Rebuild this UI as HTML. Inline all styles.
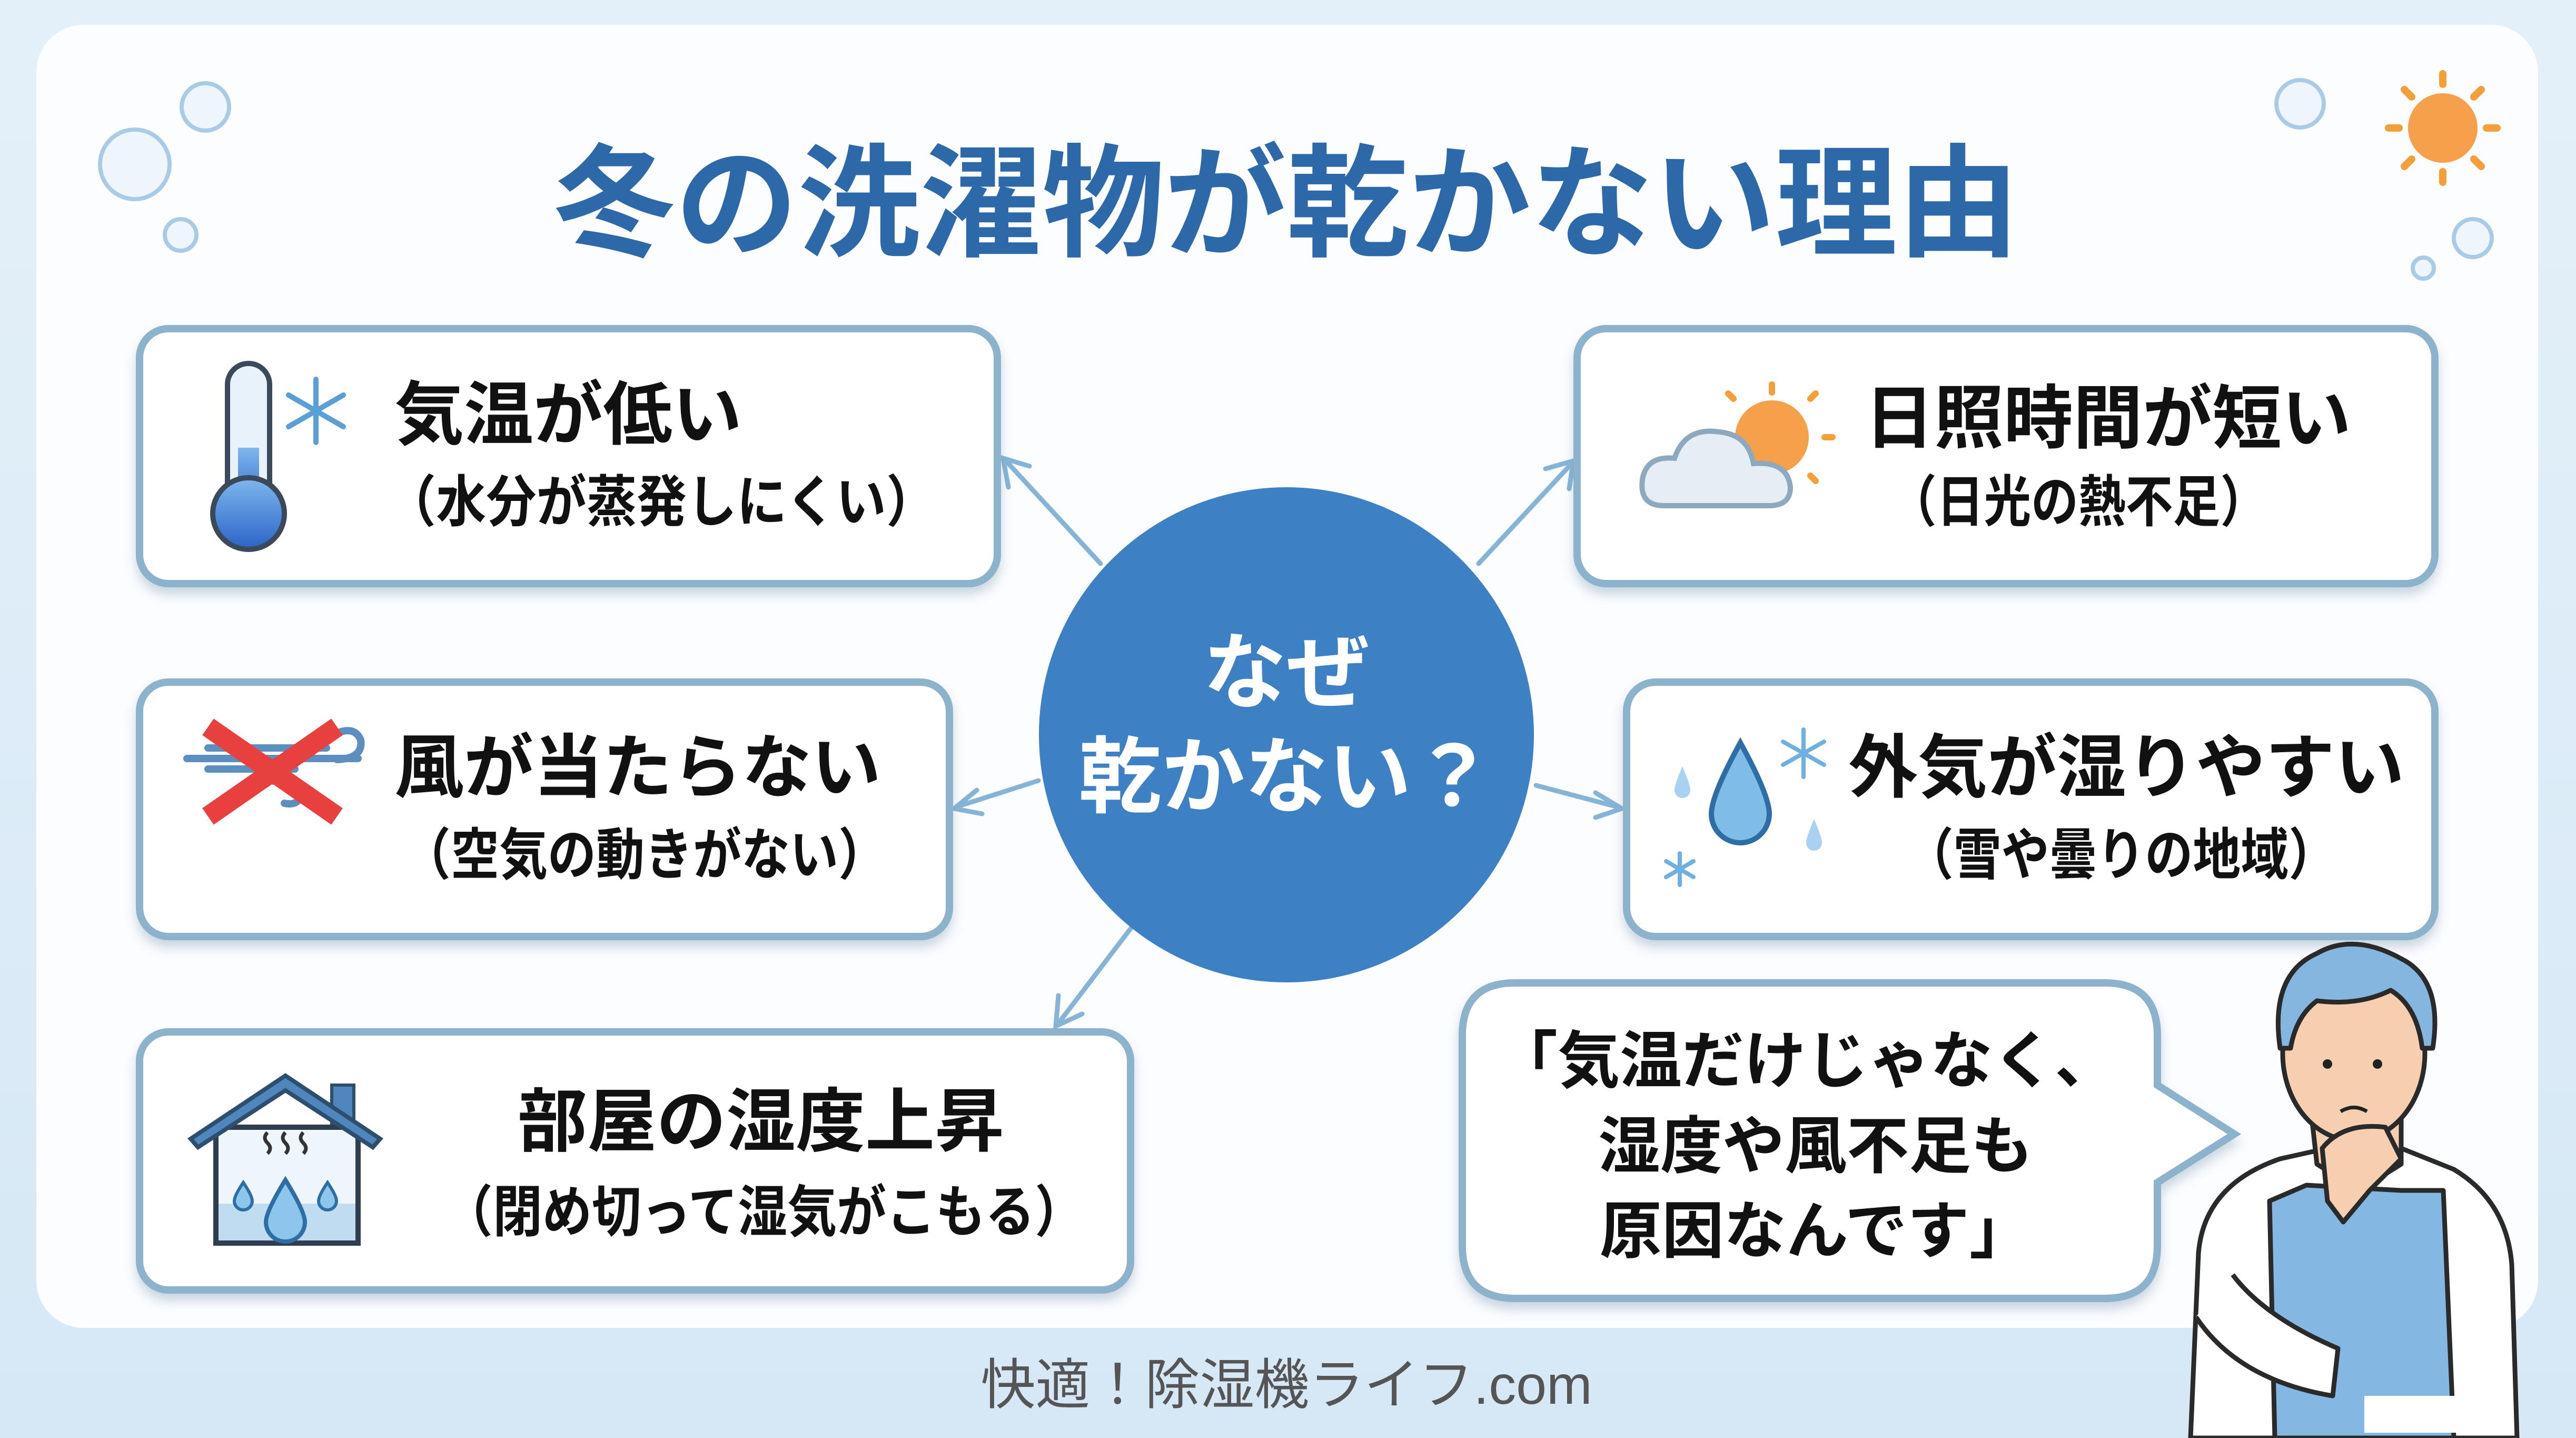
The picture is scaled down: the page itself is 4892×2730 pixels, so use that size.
<!DOCTYPE html>
<html><head><meta charset="utf-8"><style>
html,body{margin:0;padding:0;width:4892px;height:2730px;overflow:hidden;background:#dcebf7}
svg{display:block}
text{font-family:"Liberation Sans","Noto Sans CJK JP",sans-serif;font-weight:bold}
</style></head><body>
<svg width="4892" height="2730" viewBox="0 0 4892 2730" xmlns="http://www.w3.org/2000/svg">
<defs>
<linearGradient id="bg" x1="0" y1="0" x2="0" y2="1"><stop offset="0" stop-color="#e4f0f9"/><stop offset="1" stop-color="#d6e8f6"/></linearGradient>
<filter id="sh" x="-5%" y="-5%" width="110%" height="120%"><feDropShadow dx="0" dy="14" stdDeviation="10" flood-color="#6f8fa8" flood-opacity="0.35"/></filter>
<linearGradient id="therm" x1="0" y1="0" x2="0" y2="1"><stop offset="0" stop-color="#7fb8ec"/><stop offset="1" stop-color="#2b63c8"/></linearGradient>
</defs>
<rect width="4892" height="2730" fill="url(#bg)"/>
<rect x="69" y="47" width="4751" height="2474" rx="90" fill="#fbfdff"/>

<g fill="#eef6fc" stroke="#a9cbe6" stroke-width="8">
<circle cx="256" cy="312" r="66"/><circle cx="390" cy="203" r="45"/><circle cx="343" cy="446" r="30"/>
<circle cx="4368" cy="197" r="45"/><circle cx="4696" cy="452" r="36"/><circle cx="4602" cy="509" r="20"/>
</g>
<g stroke="#f3a03a" stroke-width="14" stroke-linecap="round">
<circle cx="4639" cy="243" r="66" fill="#f5a04a" stroke="none"/>
<line x1="4639" y1="140" x2="4639" y2="160"/><line x1="4639" y1="326" x2="4639" y2="346"/>
<line x1="4536" y1="243" x2="4556" y2="243"/><line x1="4722" y1="243" x2="4742" y2="243"/>
<line x1="4566" y1="170" x2="4580" y2="184"/><line x1="4698" y1="302" x2="4712" y2="316"/>
<line x1="4712" y1="170" x2="4698" y2="184"/><line x1="4580" y1="302" x2="4566" y2="316"/>
</g>

<text x="2443" y="468" text-anchor="middle" font-size="232" fill="#2d68a8">冬の洗濯物が乾かない理由</text>

<g stroke="#86b4d6" stroke-width="9" fill="none" stroke-linecap="round">
<line x1="2090" y1="1070" x2="1915" y2="880"/><polyline points="1915,925 1905,870 1955,885"/>
<line x1="2808" y1="1070" x2="2980" y2="885"/><polyline points="2935,890 2988,875 2980,928"/>
<line x1="1972" y1="1482" x2="1822" y2="1530"/><polyline points="1855,1500 1812,1535 1865,1545"/>
<line x1="2917" y1="1491" x2="3072" y2="1532"/><polyline points="3030,1505 3080,1535 3030,1552"/>
<line x1="2147" y1="1763" x2="2012" y2="1940"/><polyline points="2010,1890 2005,1948 2055,1925"/>
</g>

<circle cx="2443" cy="1395" r="470" fill="#3d80c3"/>
<text x="2443" y="1332" text-anchor="middle" font-size="158" fill="#fff">なぜ</text>
<text x="2443" y="1530" text-anchor="middle" font-size="158" fill="#fff">乾かない？</text>

<g fill="#fff" stroke="#8db3cc" stroke-width="14" filter="url(#sh)">
<rect x="265" y="624" width="1629" height="484" rx="55"/>
<rect x="2995" y="624" width="1629" height="484" rx="55"/>
<rect x="265" y="1295" width="1538" height="483" rx="55"/>
<rect x="3089" y="1295" width="1535" height="483" rx="55"/>
<rect x="265" y="1959" width="1882" height="490" rx="55"/>
<path d="M2877,1866 H3997 Q4097,1866 4097,1966 V2060 L4243,2153 L4097,2245 V2365 Q4097,2465 3997,2465 H2877 Q2777,2465 2777,2365 V1966 Q2777,1866 2877,1866 Z"/>
</g>

<rect x="432" y="690" width="80" height="290" rx="40" fill="#e8f2fb" stroke="#3a4a5a" stroke-width="10"/>
<rect x="452" y="850" width="40" height="120" fill="url(#therm)"/>
<circle cx="472" cy="975" r="68" fill="url(#therm)" stroke="#3a4a5a" stroke-width="10"/>
<g stroke="#5aa0d6" stroke-width="10" stroke-linecap="round">
<line x1="600" y1="720" x2="600" y2="840"/><line x1="548" y1="750" x2="652" y2="810"/><line x1="548" y1="810" x2="652" y2="750"/>
</g>
<text x="749" y="833" font-size="132" fill="#111">気温が低い</text>
<text x="733" y="990" font-size="106" fill="#111" textLength="1045" lengthAdjust="spacingAndGlyphs">（水分が蒸発しにくい）</text>

<circle cx="3365" cy="830" r="70" fill="#f5a04a"/>
<g stroke="#f3a03a" stroke-width="12" stroke-linecap="round">
<line x1="3365" y1="730" x2="3365" y2="745"/><line x1="3465" y1="830" x2="3480" y2="830"/><line x1="3438" y1="757" x2="3448" y2="747"/><line x1="3438" y1="903" x2="3448" y2="913"/><line x1="3292" y1="757" x2="3282" y2="747"/>
</g>
<path d="M3160,960 Q3110,960 3120,905 Q3130,865 3180,870 Q3200,810 3265,820 Q3320,825 3330,880 Q3395,875 3400,925 Q3400,960 3360,960 Z" fill="#e6eef5" stroke="#8ea8bd" stroke-width="10"/>
<text x="3541" y="840" font-size="132" fill="#111">日照時間が短い</text>
<text x="3588" y="990" font-size="106" fill="#111" textLength="718" lengthAdjust="spacingAndGlyphs">（日光の熱不足）</text>

<g stroke="#5c8fbd" stroke-width="14" fill="none" stroke-linecap="round">
<line x1="395" y1="1420" x2="620" y2="1420"/>
<line x1="355" y1="1440" x2="680" y2="1440"/><line x1="395" y1="1460" x2="560" y2="1460"/>
<path d="M640,1442 Q690,1440 685,1405 Q675,1380 645,1390"/>
<path d="M500,1482 Q560,1482 570,1512 Q565,1530 540,1525"/>
</g>
<g stroke="#e8403f" stroke-width="38" stroke-linecap="butt">
<line x1="395" y1="1380" x2="640" y2="1550"/><line x1="640" y1="1380" x2="395" y2="1550"/>
</g>
<text x="749" y="1503" font-size="132" fill="#111">風が当たらない</text>
<text x="764" y="1660" font-size="106" fill="#111" textLength="920" lengthAdjust="spacingAndGlyphs">（空気の動きがない）</text>

<path d="M3305,1410 Q3250,1510 3250,1545 A55,55 0 0 0 3360,1545 Q3360,1510 3305,1410 Z" fill="#7fbde8" stroke="#2f6ea5" stroke-width="10"/>
<path d="M3195,1455 Q3180,1490 3180,1500 A15,15 0 0 0 3210,1500 Q3210,1490 3195,1455Z" fill="#a8d2f0"/>
<path d="M3445,1555 Q3430,1590 3430,1600 A15,15 0 0 0 3460,1600 Q3460,1590 3445,1555Z" fill="#a8d2f0"/>
<g stroke="#6fb0e0" stroke-width="8" stroke-linecap="round">
<line x1="3425" y1="1385" x2="3425" y2="1475"/><line x1="3386" y1="1408" x2="3464" y2="1452"/><line x1="3386" y1="1452" x2="3464" y2="1408"/>
<line x1="3190" y1="1620" x2="3190" y2="1680"/><line x1="3164" y1="1635" x2="3216" y2="1665"/><line x1="3164" y1="1665" x2="3216" y2="1635"/>
</g>
<text x="3510" y="1503" font-size="132" fill="#111">外気が湿りやすい</text>
<text x="3619" y="1660" font-size="106" fill="#111" textLength="818" lengthAdjust="spacingAndGlyphs">（雪や曇りの地域）</text>

<rect x="630" y="2060" width="42" height="90" fill="#4f86bd" stroke="#2e4e6e" stroke-width="6"/>
<rect x="410" y="2140" width="270" height="220" fill="#eef5fb" stroke="#2e3e50" stroke-width="10"/>
<rect x="415" y="2285" width="260" height="70" fill="#bfdcf1"/>
<polygon points="362,2162 542,2042 722,2162 708,2178 542,2070 376,2178" fill="#4f86bd" stroke="#2e4e6e" stroke-width="8"/>
<path d="M542,2240 Q505,2300 505,2320 A37,37 0 0 0 579,2320 Q579,2300 542,2240Z" fill="#8cc6ec" stroke="#2f6ea5" stroke-width="8"/>
<path d="M462,2245 Q445,2270 445,2280 A17,17 0 0 0 479,2280 Q479,2270 462,2245Z" fill="#8cc6ec" stroke="#2f6ea5" stroke-width="6"/>
<path d="M622,2245 Q605,2270 605,2280 A17,17 0 0 0 639,2280 Q639,2270 622,2245Z" fill="#8cc6ec" stroke="#2f6ea5" stroke-width="6"/>
<g stroke="#333" stroke-width="7" fill="none"><path d="M508,2150 q-10,10 0,20 q10,10 0,20"/><path d="M542,2150 q-10,10 0,20 q10,10 0,20"/><path d="M576,2150 q-10,10 0,20 q10,10 0,20"/></g>
<text x="1445" y="2175" text-anchor="middle" font-size="132" fill="#111">部屋の湿度上昇</text>
<text x="842" y="2338" font-size="106" fill="#111" textLength="1217" lengthAdjust="spacingAndGlyphs">（閉め切って湿気がこもる）</text>

<text x="3430" y="2055" text-anchor="middle" font-size="118" fill="#111">「気温だけじゃなく、</text>
<text x="3448" y="2217" text-anchor="middle" font-size="118" fill="#111">湿度や風不足も</text>
<text x="3448" y="2378" text-anchor="middle" font-size="118" fill="#111">原因なんです」</text>

<g stroke="#2a2a2a" stroke-width="9" stroke-linejoin="round">
<path d="M4160,2730 L4175,2380 Q4185,2250 4330,2200 L4420,2180 L4560,2180 L4660,2220 Q4760,2280 4770,2400 L4780,2730 Z" fill="#fff"/>
<path d="M4320,2730 L4310,2280 L4380,2250 L4560,2260 L4640,2260 L4660,2730 Z" fill="#84b8e2"/>
<path d="M4390,2120 L4400,2210 L4480,2260 L4560,2210 L4560,2120 Z" fill="#f6cfb0"/>
<ellipse cx="4470" cy="2000" rx="135" ry="165" fill="#f6cfb0"/>
<path d="M4330,1990 Q4310,1850 4400,1810 Q4470,1770 4560,1820 Q4640,1860 4620,1990 L4600,1990 Q4590,1910 4540,1880 Q4480,1910 4400,1900 Q4360,1930 4350,1990 Z" fill="#85b6e0"/>
<path d="M4410,2180 Q4450,2130 4530,2140 L4560,2200 L4500,2260 L4450,2320 L4420,2280 Z" fill="#f6cfb0"/>
<path d="M4170,2500 Q4250,2620 4430,2650 L4440,2560 Q4300,2500 4240,2420" fill="#fff"/>
</g>
<circle cx="4420" cy="2020" r="9" fill="#222"/><circle cx="4515" cy="2020" r="9" fill="#222"/>
<path d="M4445,2110 Q4470,2095 4495,2110" stroke="#222" stroke-width="7" fill="none"/>
<rect x="4490" y="2650" width="280" height="70" fill="#fff"/>

<text x="2443" y="2665" text-anchor="middle" font-size="104" fill="#555" style="font-weight:normal">快適！除湿機ライフ.com</text>
</svg>
</body></html>
